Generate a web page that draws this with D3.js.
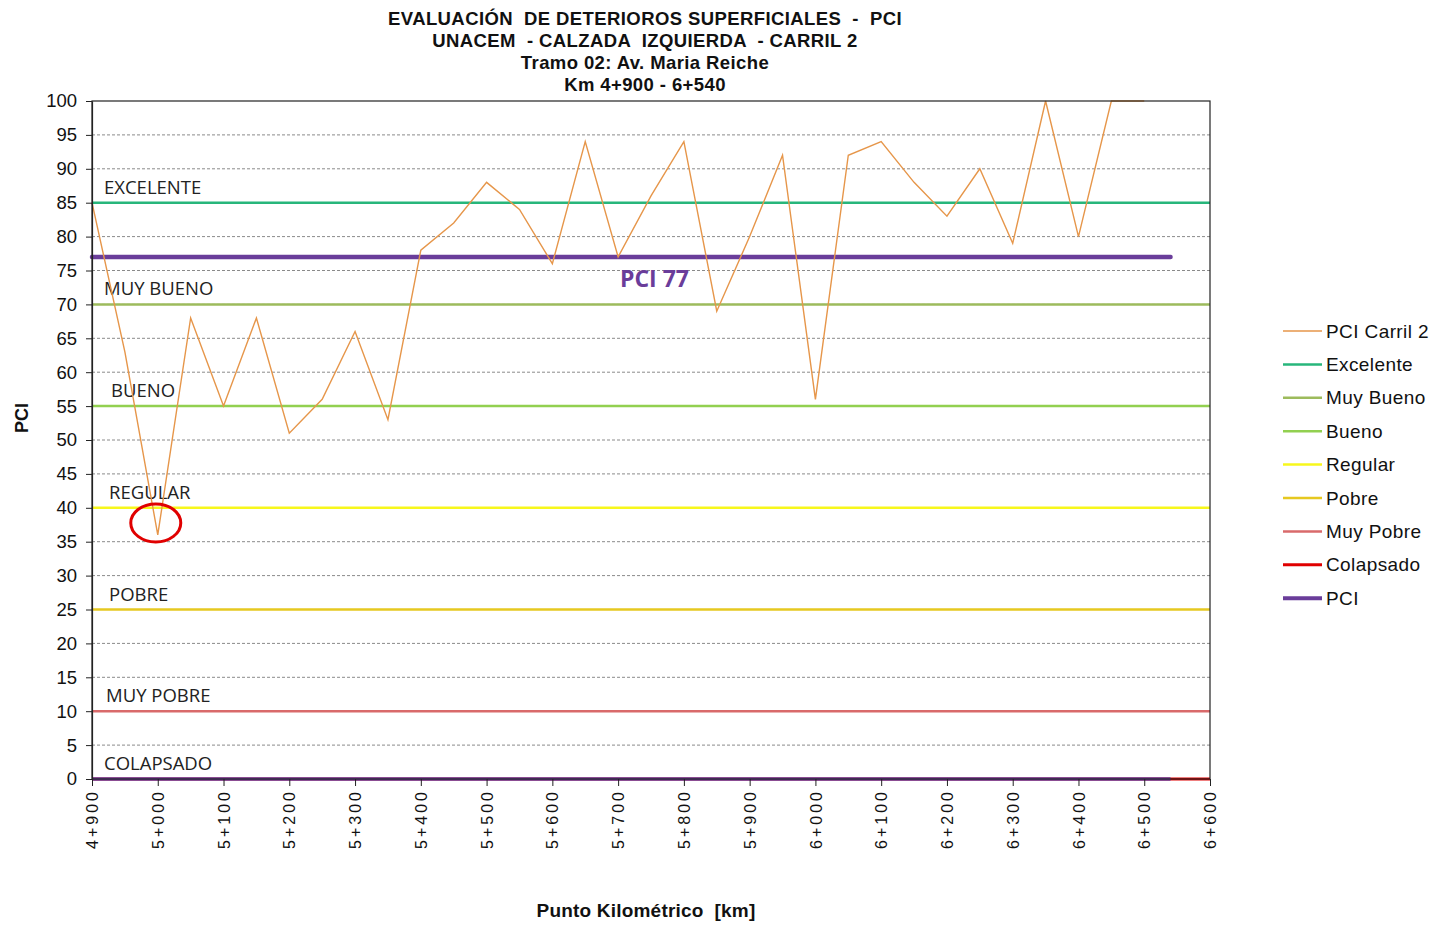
<!DOCTYPE html>
<html>
<head>
<meta charset="utf-8">
<script src="https://cdn.jsdelivr.net/npm/d3@7"></script>
<style>
  html, body { margin: 0; padding: 0; background: #fff; }
  svg { display: block; }
  text { white-space: pre; }
</style>
</head>
<body>
<svg id="chart" width="1432" height="925"></svg>
<script>
// Chainage of each survey point, in metres
const chainage = [4900, 4950, 5000, 5050, 5100, 5150, 5200, 5250, 5300, 5350,
                  5400, 5450, 5500, 5550, 5600, 5650, 5700, 5750, 5800, 5850,
                  5900, 5950, 6000, 6050, 6100, 6150, 6200, 6250, 6300, 6350,
                  6400, 6450, 6500];
// PCI measured on lane 2 at each point
const pciCarril2 = [85, 63, 36, 68, 55, 68, 51, 56, 66, 53,
                    78, 82, 88, 84, 76, 94, 77, 86, 94, 69,
                    80, 92, 56, 92, 94, 88, 83, 90, 79, 100,
                    80, 100, 100];
// Condition thresholds
const bandNames  = ["Excelente", "Muy Bueno", "Bueno", "Regular", "Pobre", "Muy Pobre", "Colapsado"];
const bandLabels = ["EXCELENTE", "MUY BUENO", "BUENO", "REGULAR", "POBRE", "MUY POBRE", "COLAPSADO"];
const bandValues = [85, 70, 55, 40, 25, 10, 0];
const bandColors = ["#27b67b", "#9dbb5c", "#92d050", "#f7f71c", "#e6c820", "#d96a6b", "#e00000"];
// Average PCI of the section
const pciAverage = 77;
const sectionStart = 4900, sectionEnd = 6540;
// Axis ticks
const xTicks = [4900, 5000, 5100, 5200, 5300, 5400, 5500, 5600, 5700, 5800,
                5900, 6000, 6100, 6200, 6300, 6400, 6500, 6600];
const yTicks = [0, 5, 10, 15, 20, 25, 30, 35, 40, 45, 50, 55, 60, 65, 70, 75, 80, 85, 90, 95, 100];
const titleLines = ["EVALUACIÓN  DE DETERIOROS SUPERFICIALES  -  PCI",
                    "UNACEM  - CALZADA  IZQUIERDA  - CARRIL 2",
                    "Tramo 02: Av. Maria Reiche",
                    "Km 4+900 - 6+540"];

const svg = d3.select("#chart");
const plotLeft = 92, plotRight = 1210, plotTop = 101, plotBottom = 779;

const x = d3.scaleLinear().domain([4900, 6600]).range([plotLeft, plotRight]);
const y = d3.scaleLinear().domain([0, 100]).range([plotBottom, plotTop]);
const fmtKm = m => Math.floor(m / 1000) + "+" + String(m % 1000).padStart(3, "0");

const arial = "'Liberation Sans', Arial, sans-serif";
const calibri = "'Open Sans', 'Noto Sans', sans-serif";

// Titles
svg.append("g").selectAll("text").data(titleLines).join("text")
  .attr("x", 645).attr("y", (d, i) => 25 + i * 22)
  .attr("text-anchor", "middle")
  .attr("font-family", arial).attr("font-weight", "bold").attr("font-size", 18.5)
  .attr("letter-spacing", 0.4)
  .attr("fill", "#111").text(d => d);

// Horizontal dashed grid
svg.append("g").selectAll("line").data(yTicks.filter(v => v > 0 && v < 100)).join("line")
  .attr("x1", plotLeft).attr("x2", plotRight)
  .attr("y1", d => y(d)).attr("y2", d => y(d))
  .attr("stroke", "#8a8a8a").attr("stroke-width", 1).attr("stroke-dasharray", "3,2");

// Threshold lines
svg.append("g").selectAll("line").data(bandValues).join("line")
  .attr("x1", plotLeft).attr("x2", plotRight)
  .attr("y1", d => y(d)).attr("y2", d => y(d))
  .attr("stroke", (d, i) => bandColors[i])
  .attr("stroke-width", (d, i) => i === 6 ? 3 : 2.5);

// Threshold labels
const labelX = [104, 104, 111, 109, 109, 106, 104];
svg.append("g").selectAll("text").data(bandLabels).join("text")
  .attr("x", (d, i) => labelX[i])
  .attr("y", (d, i) => y(bandValues[i]) - 9)
  .attr("font-family", calibri).attr("font-size", 18.5)
  .attr("fill", "#222").text(d => d);

// Average PCI line and the same colour along zero
svg.append("line")
  .attr("x1", x(sectionStart)).attr("x2", x(sectionEnd))
  .attr("y1", y(pciAverage)).attr("y2", y(pciAverage))
  .attr("stroke", "#6a3d9a").attr("stroke-width", 4.5).attr("stroke-linecap", "round");
svg.append("line")
  .attr("x1", x(sectionStart)).attr("x2", x(sectionEnd))
  .attr("y1", y(0)).attr("y2", y(0))
  .attr("stroke", "#6a3d9a").attr("stroke-width", 3.5);
svg.append("text")
  .attr("x", 620).attr("y", y(pciAverage) + 30)
  .attr("font-family", calibri).attr("font-weight", "bold").attr("font-size", 23)
  .attr("fill", "#6a3d9a").text("PCI " + pciAverage);

// Lane 2 PCI series
svg.append("path")
  .datum(chainage.map((c, i) => [c, pciCarril2[i]]))
  .attr("d", d3.line().x(d => x(d[0])).y(d => y(d[1])))
  .attr("fill", "none").attr("stroke", "#e6964a").attr("stroke-width", 1.4);

// Plot frame
svg.append("rect")
  .attr("x", plotLeft).attr("y", plotTop).attr("width", plotRight - plotLeft).attr("height", plotBottom - plotTop)
  .attr("fill", "none").attr("stroke", "#222").attr("stroke-width", 1.2);

// Y axis
const yAxis = svg.append("g").attr("transform", `translate(${plotLeft},0)`)
  .call(d3.axisLeft(y).tickValues(yTicks).tickSize(6).tickSizeOuter(0));
yAxis.select(".domain").attr("stroke", "#222").attr("stroke-width", 1.2);
yAxis.selectAll(".tick line").attr("stroke", "#222");
yAxis.selectAll(".tick text")
  .attr("font-family", arial).attr("font-size", 18.5).attr("fill", "#111").attr("x", -15);

// X axis
const xAxis = svg.append("g").attr("transform", `translate(0,${plotBottom})`)
  .call(d3.axisBottom(x).tickValues(xTicks).tickFormat(fmtKm).tickSize(7).tickSizeOuter(0));
xAxis.select(".domain").attr("stroke", "none");
xAxis.selectAll(".tick line").attr("stroke", "#222");
xAxis.selectAll(".tick text")
  .attr("font-family", arial).attr("font-size", 16).attr("fill", "#111")
  .attr("letter-spacing", 3)
  .attr("text-anchor", "end")
  .attr("transform", "rotate(-90)")
  .attr("x", -10).attr("y", 0).attr("dy", "0.35em");

// Axis titles
svg.append("text")
  .attr("transform", "translate(28,418) rotate(-90)")
  .attr("text-anchor", "middle")
  .attr("font-family", arial).attr("font-weight", "bold").attr("font-size", 18)
  .attr("fill", "#111").text("PCI");
svg.append("text")
  .attr("x", 646).attr("y", 917).attr("text-anchor", "middle")
  .attr("font-family", arial).attr("font-weight", "bold").attr("font-size", 19)
  .attr("letter-spacing", 0.2)
  .attr("fill", "#111").text("Punto Kilométrico  [km]");

// Highlight of the lowest value
const minIdx = pciCarril2.indexOf(d3.min(pciCarril2));
svg.append("ellipse")
  .attr("cx", x(chainage[minIdx]) - 2).attr("cy", y(pciCarril2[minIdx]) - 12)
  .attr("rx", 25).attr("ry", 19)
  .attr("fill", "none").attr("stroke", "#e00000").attr("stroke-width", 3);

// Legend
const legendItems = [{name: "PCI Carril 2", color: "#e6964a", w: 1.4}]
  .concat(bandNames.map((n, i) => ({name: n, color: bandColors[i], w: i === 6 ? 3 : 2.5})))
  .concat([{name: "PCI", color: "#6a3d9a", w: 4}]);
const lg = svg.append("g").selectAll("g").data(legendItems).join("g")
  .attr("transform", (d, i) => `translate(1283,${331 + i * 33.4})`);
lg.append("line").attr("x1", 0).attr("x2", 39).attr("y1", 0).attr("y2", 0)
  .attr("stroke", d => d.color).attr("stroke-width", d => d.w);
lg.append("text").attr("x", 43).attr("y", 0).attr("dy", "0.35em")
  .attr("font-family", arial).attr("font-size", 19).attr("letter-spacing", 0.4)
  .attr("fill", "#111")
  .text(d => d.name);
</script>
</body>
</html>
